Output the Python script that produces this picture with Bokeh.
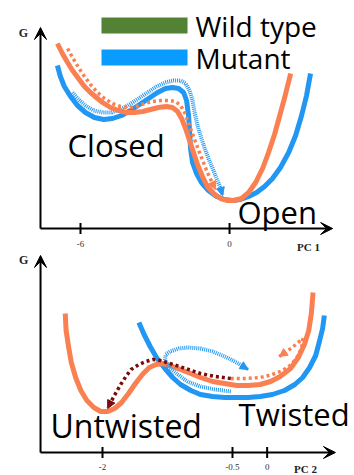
from bokeh.plotting import figure
from bokeh.layouts import column
from bokeh.models import Arrow, VeeHead, NormalHead, Range1d
from bokeh.core.properties import value
from bokeh.embed import file_html
from bokeh.resources import INLINE

# ---------------- colours ----------------
ORANGE = "#FA8052"
BLUE = "#2196F3"
LEG_BLUE = "#0A9BFF"
GREEN = "#548235"
MAROON = "#7B0A0A"

# ---------------- top panel (PC 1) ----------------
pc1_ticks = [-6, 0]
pc1_tick_labels = ["-6", "0"]

wt_open_x = [-6.93, -6.73, -6.52, -6.32, -6.08, -5.84, -5.60, -5.36, -5.11, -4.79, -4.47, -4.15, -3.83,
             -3.50, -3.18, -2.86, -2.54, -2.30, -2.09, -1.93, -1.77, -1.61, -1.45, -1.29, -1.09, -0.89,
             -0.64, -0.36, -0.08, 0.20, 0.48, 0.77, 1.05, 1.33, 1.57, 1.81, 2.01, 2.22, 2.46]
wt_open_g = [9.25, 8.75, 8.30, 7.90, 7.50, 7.10, 6.80, 6.55, 6.30, 6.05, 5.90, 5.80, 5.80,
             5.85, 5.95, 6.05, 6.10, 6.05, 5.85, 5.50, 5.00, 4.40, 3.80, 3.20, 2.60, 2.10,
             1.75, 1.50, 1.40, 1.40, 1.50, 1.80, 2.30, 3.00, 3.80, 4.70, 5.60, 6.55, 7.75]

mut_open_x = [-6.93, -6.81, -6.65, -6.40, -6.12, -5.80, -5.44, -5.07, -4.71, -4.35, -3.99, -3.62, -3.26,
              -2.90, -2.58, -2.30, -2.05, -1.85, -1.73, -1.65, -1.61, -1.57, -1.49, -1.33, -1.13, -0.85,
              -0.52, -0.20, 0.12, 0.44, 0.77, 1.09, 1.41, 1.73, 2.05, 2.38, 2.66, 2.90, 3.10, 3.26]
mut_open_g = [8.15, 7.60, 7.10, 6.60, 6.15, 5.80, 5.55, 5.45, 5.50, 5.65, 5.90, 6.20, 6.50,
              6.80, 7.00, 7.05, 7.00, 6.80, 6.40, 5.65, 4.90, 4.00, 3.30, 2.75, 2.30, 1.90,
              1.60, 1.45, 1.40, 1.45, 1.60, 1.80, 2.10, 2.50, 3.05, 3.80, 4.65, 5.65, 6.65, 7.75]

mut_path1_x = [-6.32, -6.08, -5.80, -5.48, -5.11, -4.75, -4.39, -4.03, -3.66, -3.30, -2.94, -2.58, -2.26,
               -1.97, -1.77, -1.61, -1.49, -1.41, -1.29, -1.17, -1.01, -0.85, -0.68, -0.52, -0.36, -0.28]
mut_path1_g = [6.80, 6.45, 6.15, 5.90, 5.80, 5.80, 5.95, 6.20, 6.50, 6.80, 7.10, 7.30, 7.40,
               7.40, 7.25, 6.90, 6.40, 5.80, 5.15, 4.65, 4.05, 3.50, 3.00, 2.50, 2.00, 1.65]

wt_path1_x = [-6.52, -6.32, -6.08, -5.84, -5.60, -5.32, -5.03, -4.71, -4.39, -4.07, -3.75, -3.42, -3.10,
              -2.78, -2.46, -2.17, -1.97, -1.81, -1.69, -1.57, -1.45, -1.33, -1.21, -1.05, -0.89, -0.72, -0.56]
wt_path1_g = [9.00, 8.55, 8.05, 7.60, 7.20, 6.80, 6.50, 6.25, 6.10, 6.05, 6.10, 6.25, 6.35,
              6.40, 6.40, 6.35, 6.15, 5.80, 5.40, 5.00, 4.60, 4.20, 3.80, 3.30, 2.80, 2.35, 1.95]

legend_labels = ["Wild type", "Mutant"]
legend_colors = [GREEN, LEG_BLUE]
top_state_labels = ["Closed", "Open"]

# ---------------- bottom panel (PC 2) ----------------
pc2_tick_pos = [-2, -0.5, -0.1]
pc2_tick_labels = ["-2", "-0.5", "0"]

wt_twist_x = [-2.43, -2.42, -2.39, -2.36, -2.31, -2.25, -2.18, -2.10, -2.02, -1.94, -1.86, -1.78, -1.70,
              -1.62, -1.54, -1.46, -1.38, -1.30, -1.22, -1.10, -0.98, -0.87, -0.73, -0.59, -0.45, -0.32,
              -0.18, -0.06, 0.05, 0.17, 0.26, 0.33, 0.38, 0.41, 0.43]
wt_twist_g = [6.95, 6.10, 5.25, 4.50, 3.75, 3.10, 2.60, 2.25, 2.05, 2.05, 2.20, 2.50, 2.95,
              3.45, 3.90, 4.25, 4.40, 4.45, 4.35, 4.15, 3.95, 3.75, 3.55, 3.45, 3.35, 3.35,
              3.40, 3.55, 3.80, 4.20, 4.75, 5.40, 6.10, 6.95, 8.00]

mut_twist_x = [-1.58, -1.52, -1.45, -1.37, -1.28, -1.19, -1.10, -0.98, -0.87, -0.73, -0.59, -0.45, -0.32,
               -0.18, -0.04, 0.10, 0.22, 0.31, 0.39, 0.46, 0.50, 0.54, 0.56]
mut_twist_g = [6.50, 5.90, 5.30, 4.70, 4.20, 3.75, 3.40, 3.10, 2.90, 2.80, 2.75, 2.75, 2.75,
               2.80, 2.90, 3.10, 3.40, 3.75, 4.25, 4.85, 5.50, 6.20, 6.85]

back_path_x = [-0.52, -0.70, -0.87, -1.04, -1.22, -1.33, -1.42, -1.50, -1.58, -1.67, -1.73, -1.79, -1.85, -1.90, -1.94]
back_path_g = [3.70, 3.80, 3.95, 4.20, 4.45, 4.60, 4.65, 4.55, 4.40, 4.15, 3.80, 3.40, 2.95, 2.55, 2.20]

wt_path2_x = [-0.52, -0.35, -0.18, -0.04, 0.08, 0.18, 0.25, 0.30, 0.31, 0.19, 0.04]
wt_path2_g = [3.70, 3.70, 3.75, 3.90, 4.10, 4.40, 4.80, 5.25, 5.70, 5.25, 4.80]

mut_path2_x = [-0.52, -0.70, -0.87, -1.02, -1.13, -1.23, -1.28, -1.27, -1.22, -1.12, -1.01, -0.87, -0.73, -0.59, -0.45, -0.32]
mut_path2_g = [3.05, 3.15, 3.30, 3.55, 3.90, 4.25, 4.60, 4.90, 5.05, 5.20, 5.25, 5.20, 5.05, 4.80, 4.50, 4.15]

bottom_state_labels = ["Untwisted", "Twisted"]

SANS = value("Open Sans")
SERIF = value("Liberation Serif")


def base_fig(h, xr, yr):
    p = figure(width=354, height=h, x_range=Range1d(*xr), y_range=Range1d(*yr),
               output_backend="svg", toolbar_location=None,
               x_axis_location=None, y_axis_location=None,
               min_border=0, min_border_left=0, min_border_right=0,
               min_border_top=0, min_border_bottom=0)
    p.outline_line_color = None
    p.grid.visible = False
    p.background_fill_color = "white"
    return p


def axes(p, x0, x1, y1, ticks, labels, lab_y, name, name_x, name_y, g_x, g_y):
    p.add_layout(Arrow(end=VeeHead(size=12, fill_color="black", line_color="black"),
                       x_start=x0, y_start=0, x_end=x1, y_end=0, line_width=2, line_color="black"))
    p.add_layout(Arrow(end=VeeHead(size=12, fill_color="black", line_color="black"),
                       x_start=x0, y_start=0, x_end=x0, y_end=y1, line_width=2, line_color="black"))
    p.segment(x0=ticks, y0=[-0.28] * len(ticks), x1=ticks, y1=[0.28] * len(ticks),
              line_color="black", line_width=2)
    p.text(x=ticks, y=[lab_y] * len(ticks), text=labels, text_font=SERIF, text_font_size="9px",
           text_align="center", text_baseline="middle", text_color="#333333")
    p.text(x=[name_x], y=[name_y], text=[name], text_font=SERIF, text_font_size="11px",
           text_font_style="bold", text_align="center", text_baseline="middle", text_color="#222222")
    p.text(x=[g_x], y=[g_y], text=["G"], text_font=SERIF, text_font_size="12px",
           text_font_style="bold", text_align="center", text_baseline="middle", text_color="#222222")


def dotted(p, xs, ys, color, dash, width, head=8):
    p.line(xs, ys, line_color=color, line_width=width, line_dash=dash)
    p.add_layout(Arrow(end=NormalHead(size=head, fill_color=color, line_color=color, line_width=1),
                       x_start=xs[-2], y_start=ys[-2], x_end=xs[-1], y_end=ys[-1],
                       line_alpha=0))


# ---- top (page y 0..253) ----
top = base_fig(253, (-9.22, 5.03), (-1.25, 11.40))
axes(top, -7.61, 4.15, 10.05, pc1_ticks, pc1_tick_labels, -0.75, "PC 1", 3.18, -0.90, -8.30, 9.8)
top.line(mut_open_x, mut_open_g, line_color=BLUE, line_width=5)
dotted(top, mut_path1_x, mut_path1_g, BLUE, "1 1", 4)
top.line(wt_open_x, wt_open_g, line_color=ORANGE, line_width=5)
dotted(top, wt_path1_x, wt_path1_g, ORANGE, "3 3", 3.5)
top.quad(left=[-5.155, -5.155], right=[-1.691, -1.691], bottom=[9.75, 8.15], top=[10.55, 8.95],
         fill_color=legend_colors, line_color=None)
top.text(x=[-1.37, -1.37], y=[10.15, 8.55], text=legend_labels, text_font=SANS, text_font_size="28px",
         text_align="left", text_baseline="middle", text_color="black")
top.text(x=[-6.52, 0.32], y=[4.18, 0.85], text=top_state_labels, text_font=SANS, text_font_size="31px",
         text_align="left", text_baseline="middle", text_color="black")

# ---- bottom (page y 253..475) ----
bot = base_fig(222, (-3.177, 0.908), (-1.15, 9.95))
axes(bot, -2.715, 0.688, 9.85, pc2_tick_pos, pc2_tick_labels, -0.70, "PC 2", 0.342, -0.80, -2.91, 9.65)
bot.line(mut_twist_x, mut_twist_g, line_color=BLUE, line_width=5)
bot.line(wt_twist_x, wt_twist_g, line_color=ORANGE, line_width=5)
dotted(bot, mut_path2_x, mut_path2_g, BLUE, "1 1", 4)
dotted(bot, wt_path2_x, wt_path2_g, ORANGE, "3 3", 3.5)
dotted(bot, back_path_x, back_path_g, MAROON, "3 3", 3.5)
bot.text(x=[-2.60], y=[1.35], text=[bottom_state_labels[0]], text_font=SANS, text_font_size="32px",
         text_align="left", text_baseline="middle", text_color="black")
bot.text(x=[-0.43], y=[1.95], text=[bottom_state_labels[1]], text_font=SANS, text_font_size="31px",
         text_align="left", text_baseline="middle", text_color="black")

layout = column(top, bot, spacing=0)
open("out.html", "w").write(file_html(layout, INLINE))
